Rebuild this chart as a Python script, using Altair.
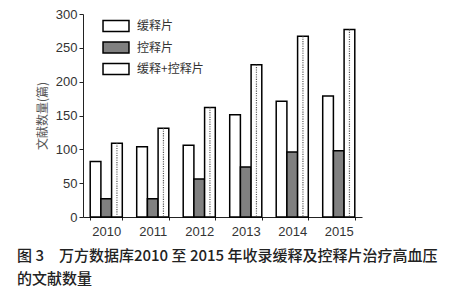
import altair as alt
import pandas as pd

years = ["2010", "2011", "2012", "2013", "2014", "2015"]
series = ["缓释片", "控释片", "缓释+控释片"]
sustained = [82, 104, 106, 151, 171, 179]
controlled = [27, 27, 56, 74, 96, 98]
combined = [109, 131, 162, 225, 267, 277]
colors = ["#ffffff", "#808080", "#ffffff"]
y_ticks = [0, 50, 100, 150, 200, 250, 300]
caption = ["图 3　万方数据库2010 至 2015 年收录缓释及控释片治疗高血压", "的文献数量"]

rows = []
for vals, s in zip([sustained, controlled, combined], series):
    for yr, v in zip(years, vals):
        rows.append({"year": yr, "series": s, "value": v})
df = pd.DataFrame(rows)

x_enc = alt.X("year:N", sort=years,
              scale=alt.Scale(paddingInner=0.31, paddingOuter=0.155),
              axis=alt.Axis(title=None, labelAngle=0, tickBand="extent", tickSize=3,
                            labelPadding=5, labelFontSize=13, labelColor="#333",
                            labelFont="Liberation Sans", domainColor="#222",
                            tickColor="#222"))
xoff = alt.XOffset("series:N", sort=series, scale=alt.Scale(paddingInner=0, paddingOuter=0))
y_enc = alt.Y("value:Q", scale=alt.Scale(domain=[0, 300]),
              axis=alt.Axis(title="文献数量(篇)", values=y_ticks, grid=False, tickSize=4,
                            labelPadding=2, labelFontSize=13, labelColor="#333",
                            labelOverlap=False,
                            labelFont="Liberation Sans", domainColor="#222",
                            tickColor="#222", titleFont="Noto Sans CJK SC",
                            titleFontSize=12, titleFontWeight="normal", titleColor="#555",
                            titlePadding=6))

bars = alt.Chart(df).mark_bar(stroke="black", strokeWidth=1.5).encode(
    x=x_enc, xOffset=xoff, y=y_enc,
    fill=alt.Fill("series:N", sort=series,
                  scale=alt.Scale(domain=series, range=colors),
                  legend=alt.Legend(title=None, orient="none", legendX=21, legendY=0,
                                    symbolType="M-1.18,-0.5H1.18V0.5H-1.18Z",
                                    symbolSize=484, symbolStrokeColor="black",
                                    symbolStrokeWidth=1.5, labelFontSize=12,
                                    labelFont="Noto Sans CJK SC", labelColor="#333",
                                    labelOffset=9, rowPadding=0.5, padding=0)),
)

dot_base = alt.Chart(df).transform_filter(alt.datum.series == series[2])
dot_enc = dict(x=x_enc, xOffset=xoff, y=y_enc, y2=alt.datum(2))
dots1 = dot_base.mark_rule(color="#555", strokeWidth=1.2, strokeDash=[1.1, 3.6],
                           xOffset=-2).encode(**dot_enc)
dots2 = dot_base.mark_rule(color="#555", strokeWidth=1.2, strokeDash=[1.1, 3.6],
                           strokeDashOffset=2.4, xOffset=2).encode(**dot_enc)

chart = alt.layer(bars, dots1, dots2).properties(
    width=279, height=203,
    autosize=alt.AutoSizeParams(type="none"),
    padding={"left": 75, "top": 6, "right": 84, "bottom": 80},
    title=alt.TitleParams(text=caption, orient="bottom", anchor="start", frame="group",
                          dx=-66, offset=11, font="Noto Sans CJK SC", fontSize=15,
                          fontWeight=500, color="#222", lineHeight=23),
).configure_view(stroke=None)

chart.save("out.html", embed_options={"renderer": "svg", "actions": False})
